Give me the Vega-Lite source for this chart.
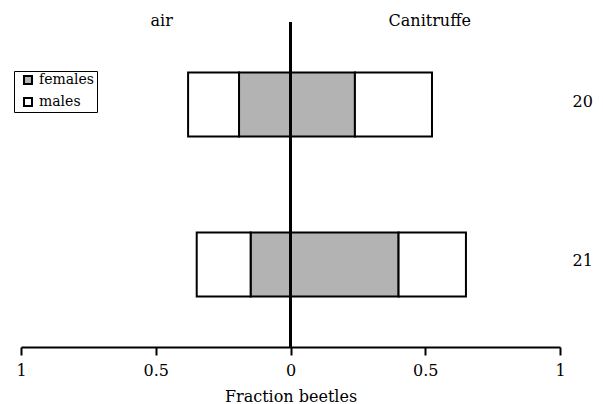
{
  "$schema": "https://vega.github.io/schema/vega-lite/v6.json",
  "width": 539,
  "height": 325,
  "autosize": {"type": "none"},
  "padding": {"left": 21, "top": 22, "right": 43, "bottom": 57},
  "config": {
    "view": {"stroke": null},
    "font": "DejaVu Serif",
    "axis": {
      "labelFont": "DejaVu Serif",
      "titleFont": "DejaVu Serif",
      "grid": false,
      "labelColor": "black",
      "titleColor": "black",
      "labelFontSize": 16,
      "titleFontSize": 16,
      "titleFontWeight": "normal"
    },
    "legend": {
      "labelFont": "DejaVu Serif",
      "labelFontSize": 14,
      "labelColor": "black"
    }
  },
  "data": {
    "values": [
      {"age": "20", "side": "air", "sex": "females", "start": 0, "end": -0.191},
      {"age": "20", "side": "air", "sex": "males", "start": -0.191, "end": -0.380},
      {"age": "20", "side": "Canitruffe", "sex": "females", "start": 0, "end": 0.239},
      {"age": "20", "side": "Canitruffe", "sex": "males", "start": 0.239, "end": 0.525},
      {"age": "21", "side": "air", "sex": "females", "start": 0, "end": -0.148},
      {"age": "21", "side": "air", "sex": "males", "start": -0.148, "end": -0.348},
      {"age": "21", "side": "Canitruffe", "sex": "females", "start": 0, "end": 0.401},
      {"age": "21", "side": "Canitruffe", "sex": "males", "start": 0.401, "end": 0.651}
    ]
  },
  "layer": [
    {
      "mark": {"type": "bar", "stroke": "black", "strokeWidth": 2, "opacity": 1},
      "encoding": {
        "y": {
          "field": "age",
          "type": "nominal",
          "scale": {"paddingInner": 0.6, "paddingOuter": 0.316},
          "axis": {
            "orient": "right",
            "title": null,
            "domain": false,
            "ticks": false,
            "tickSize": 0,
            "labelPadding": 12,
            "labelAlign": "left",
            "labelBaseline": "alphabetic",
            "labelOffset": 2,
            "labelFont": "DejaVu Serif"
          }
        },
        "x": {
          "field": "start",
          "type": "quantitative",
          "scale": {"domain": [-1, 1], "nice": false, "zero": false},
          "axis": {
            "orient": "bottom",
            "values": [-1, -0.5, 0, 0.5, 1],
            "labelExpr": "abs(datum.value)",
            "labelFlush": false,
            "labelFont": "DejaVu Serif",
            "titleFont": "DejaVu Serif",
            "domainColor": "black",
            "domainWidth": 2,
            "tickColor": "black",
            "tickWidth": 2,
            "tickSize": 8,
            "labelPadding": 7,
            "title": "Fraction beetles",
            "titlePadding": 10
          }
        },
        "x2": {"field": "end"},
        "fill": {
          "field": "sex",
          "type": "nominal",
          "scale": {"domain": ["females", "males"], "range": ["#b3b3b3", "#ffffff"]},
          "legend": {
            "orient": "none",
            "legendX": -7,
            "legendY": 49,
            "title": null,
            "labelFont": "DejaVu Serif",
            "symbolType": "square",
            "symbolSize": 64,
            "symbolStrokeColor": "black",
            "symbolStrokeWidth": 2,
            "symbolOpacity": 1,
            "strokeColor": "black",
            "padding": 2,
            "rowPadding": 6,
            "symbolOffset": 5,
            "labelOffset": 4
          }
        }
      }
    },
    {
      "mark": {"type": "rule", "strokeWidth": 2, "color": "black"},
      "encoding": {
        "x": {
          "datum": 0,
          "type": "quantitative",
          "axis": {
            "orient": "top",
            "values": [-0.48, 0.515],
            "labelExpr": "datum.value < 0 ? 'air' : 'Canitruffe'",
            "labelFlush": false,
            "labelFont": "DejaVu Serif",
            "domain": false,
            "ticks": false,
            "tickSize": 0,
            "labelPadding": -3,
            "labelBaseline": "alphabetic",
            "title": null
          }
        }
      }
    }
  ],
  "resolve": {"axis": {"x": "independent"}}
}
